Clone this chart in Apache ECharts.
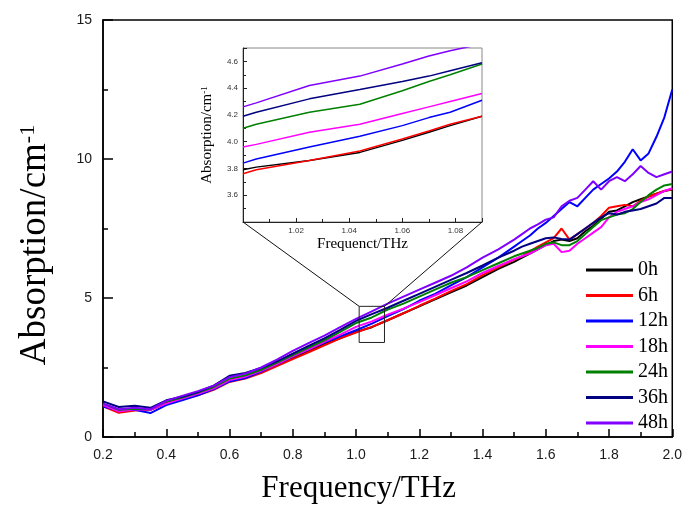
<!DOCTYPE html>
<html>
<head>
<meta charset="utf-8">
<script src="https://cdn.jsdelivr.net/npm/echarts@6.0.0/dist/echarts.min.js"></script>
<style>html,body{margin:0;padding:0;background:#fff}#c{width:685px;height:513px}</style>
</head>
<body>
<div id="c"></div>
<script>
// main curves: frequency (THz) and absorption (cm^-1) per soaking time
const freq = [0.2,0.25,0.3,0.35,0.4,0.45,0.5,0.55,0.6,0.65,0.7,0.75,0.8,0.85,0.9,0.95,1.0,1.05,1.1,1.15,1.2,1.25,1.3,1.35,1.4,1.45,1.5,
  1.525,1.55,1.575,1.6,1.625,1.65,1.675,1.7,1.725,1.75,1.775,1.8,1.825,1.85,1.875,1.9,1.925,1.95,1.975,2.0];
const h0  = [1.15,0.95,1.0,0.98,1.25,1.4,1.55,1.75,2.05,2.15,2.35,2.6,2.85,3.1,3.35,3.55,3.78,3.95,4.2,4.45,4.7,4.95,5.2,5.45,5.75,6.05,6.3,
  6.45,6.6,6.75,6.9,7.05,7.1,7.05,7.15,7.4,7.6,7.85,8.1,8.15,8.3,8.45,8.55,8.65,8.75,8.85,8.9];
const h6  = [1.1,0.87,0.95,0.98,1.2,1.35,1.5,1.7,1.98,2.1,2.3,2.55,2.8,3.05,3.3,3.55,3.76,3.96,4.2,4.45,4.72,4.98,5.25,5.5,5.82,6.1,6.38,
  6.5,6.68,6.85,7.0,7.15,7.5,7.1,7.3,7.5,7.7,7.95,8.25,8.3,8.35,8.3,8.5,8.65,8.75,8.85,8.92];
const h12 = [1.1,0.95,0.98,0.86,1.15,1.32,1.5,1.72,2.0,2.12,2.35,2.62,2.9,3.15,3.4,3.62,3.84,4.08,4.35,4.6,4.9,5.15,5.45,5.75,6.1,6.45,6.85,
  7.05,7.25,7.5,7.7,7.95,8.2,8.45,8.3,8.6,8.9,9.1,9.3,9.55,9.9,10.35,9.95,10.2,10.8,11.5,12.5];
const h18 = [1.15,0.92,1.0,0.98,1.2,1.38,1.55,1.75,2.05,2.17,2.38,2.62,2.9,3.15,3.42,3.68,3.96,4.16,4.4,4.62,4.85,5.1,5.35,5.6,5.9,6.15,6.4,
  6.5,6.6,6.75,6.9,6.95,6.65,6.7,6.95,7.15,7.35,7.55,7.9,8.1,8.2,8.3,8.45,8.55,8.7,8.85,8.95];
const h24 = [1.2,0.98,1.02,1.0,1.28,1.42,1.6,1.8,2.1,2.22,2.42,2.68,2.95,3.22,3.48,3.78,4.1,4.3,4.58,4.8,5.05,5.3,5.55,5.75,6.0,6.25,6.5,
  6.6,6.7,6.8,6.95,7.0,6.9,6.9,7.05,7.3,7.55,7.8,7.9,8.0,8.05,8.2,8.45,8.7,8.9,9.05,9.1];
const h36 = [1.28,1.08,1.12,1.05,1.32,1.45,1.62,1.85,2.2,2.3,2.48,2.72,3.0,3.28,3.55,3.85,4.18,4.42,4.65,4.9,5.15,5.4,5.65,5.9,6.17,6.45,6.7,
  6.85,6.95,7.05,7.15,7.18,7.12,7.1,7.3,7.5,7.7,7.9,8.05,8.0,8.1,8.15,8.2,8.3,8.4,8.6,8.6];
const h48 = [1.2,1.0,1.05,1.0,1.3,1.48,1.65,1.85,2.15,2.28,2.5,2.78,3.1,3.38,3.65,3.95,4.25,4.52,4.8,5.05,5.3,5.55,5.8,6.1,6.45,6.75,7.1,
  7.3,7.5,7.65,7.82,7.9,8.3,8.5,8.6,8.9,9.2,8.9,9.2,9.35,9.2,9.45,9.75,9.5,9.35,9.45,9.55];

// zoomed inset
const insetFreq = [1.0,1.005,1.025,1.044,1.06,1.07,1.078,1.09];
const i0  = [3.79,3.81,3.86,3.92,4.01,4.07,4.12,4.19];
const i6  = [3.76,3.79,3.86,3.93,4.02,4.08,4.13,4.19];
const i12 = [3.84,3.87,3.96,4.04,4.12,4.18,4.22,4.31];
const i18 = [3.96,3.98,4.07,4.13,4.21,4.26,4.30,4.36];
const i24 = [4.10,4.13,4.22,4.28,4.38,4.45,4.50,4.58];
const i36 = [4.19,4.22,4.32,4.39,4.45,4.49,4.53,4.59];
const i48 = [4.26,4.29,4.42,4.49,4.58,4.64,4.68,4.73];

// zoom window drawn on the main plot [xmin, xmax, ymin, ymax]
const zoomBox = [1.01, 1.09, 3.4, 4.7];

const names = ['0h','6h','12h','18h','24h','36h','48h'];
const colors = ['#000000','#ff0000','#0000ff','#ff00ff','#008000','#000080','#8000ff'];
const mainSets = [h0,h6,h12,h18,h24,h36,h48];
const insetSets = [i0,i6,i12,i18,i24,i36,i48];

const SERIF = '"Liberation Serif","Times New Roman",serif';
const SANS = '"Liberation Sans",Arial,sans-serif';
const pair = (xs, ys) => xs.map((x, i) => [x, ys[i]]);

const series = [];
names.forEach((n, k) => {
  series.push({ name:n, type:'line', xAxisIndex:0, yAxisIndex:0, data:pair(freq, mainSets[k]),
    showSymbol:false, symbol:'none', lineStyle:{color:colors[k], width:2}, itemStyle:{color:colors[k]}, z:3 });
});
names.forEach((n, k) => {
  series.push({ name:n, type:'line', xAxisIndex:1, yAxisIndex:1, data:pair(insetFreq, insetSets[k]),
    showSymbol:false, symbol:'none', lineStyle:{color:colors[k], width:1.5}, itemStyle:{color:colors[k]}, z:12 });
});
series.push({ type:'line', xAxisIndex:0, yAxisIndex:0, symbol:'none', z:5,
  data:[[zoomBox[0],zoomBox[2]],[zoomBox[1],zoomBox[2]],[zoomBox[1],zoomBox[3]],[zoomBox[0],zoomBox[3]],[zoomBox[0],zoomBox[2]]],
  lineStyle:{color:'#222', width:1} });

const option = {
  animation:false,
  backgroundColor:'#fff',
  legend:{ data:names, orient:'vertical', left:581, top:255, icon:'rect', itemWidth:47, itemHeight:3, itemGap:5.5,
    textStyle:{fontFamily:SERIF, fontSize:20, color:'#000', lineHeight:20} },
  grid:[
    { left:103, top:20, width:570, height:417, show:true, borderColor:'#000', borderWidth:1.5, backgroundColor:'transparent', containLabel:false },
    { left:243, top:48, width:239, height:174, show:true, borderColor:'#888', borderWidth:1, backgroundColor:'#fff', z:10 }
  ],
  xAxis:[
    { gridIndex:0, type:'value', min:0.2, max:2.0, interval:0.2,
      name:'Frequency/THz', nameLocation:'middle', nameGap:36,
      nameTextStyle:{fontFamily:SERIF, fontSize:31, color:'#000', padding:[0,58,0,0]},
      axisLine:{lineStyle:{color:'#000', width:1.5}},
      axisTick:{inside:true, length:8, lineStyle:{color:'#000', width:1.5}},
      minorTick:{show:true, splitNumber:2, length:5, lineStyle:{color:'#000', width:1.5}},
      axisLabel:{fontFamily:SANS, fontSize:14, color:'#1a1a1a', margin:11, formatter:v => v.toFixed(1)},
      splitLine:{show:false} },
    { gridIndex:1, type:'value', min:1.0, max:1.09, interval:0.02,
      name:'Frequenct/THz', nameLocation:'middle', nameGap:15,
      nameTextStyle:{fontFamily:SERIF, fontSize:15, color:'#000'},
      axisLine:{lineStyle:{color:'#222', width:1}},
      axisTick:{inside:true, length:4, lineStyle:{color:'#222'}},
      minorTick:{show:true, splitNumber:2, length:3, lineStyle:{color:'#222'}},
      axisLabel:{fontFamily:SANS, fontSize:8, color:'#333', margin:5, showMinLabel:false, showMaxLabel:false,
        formatter:v => v.toFixed(2)},
      splitLine:{show:false}, z:11 }
  ],
  yAxis:[
    { gridIndex:0, type:'value', min:0, max:15, interval:5,
      name:'{a|Absorption/cm}{s|-1}', nameLocation:'middle', nameGap:49,
      nameTextStyle:{padding:[0,33,0,0], rich:{
        a:{fontFamily:SERIF, fontSize:37, color:'#000'},
        s:{fontFamily:SERIF, fontSize:22, color:'#000', verticalAlign:'top'} }},
      axisLine:{lineStyle:{color:'#000', width:1.5}},
      axisTick:{inside:true, length:10, lineStyle:{color:'#000', width:1.5}},
      minorTick:{show:true, splitNumber:2, length:5, lineStyle:{color:'#000', width:1.5}},
      axisLabel:{fontFamily:SANS, fontSize:14, color:'#1a1a1a', margin:11},
      splitLine:{show:false} },
    { gridIndex:1, type:'value', min:3.4, max:4.7, interval:0.2,
      name:'{a|Absorption/cm}{s|-1}', nameLocation:'middle', nameGap:28,
      nameTextStyle:{rich:{
        a:{fontFamily:SERIF, fontSize:15, color:'#000'},
        s:{fontFamily:SERIF, fontSize:9, color:'#000', verticalAlign:'top'} }},
      axisLine:{lineStyle:{color:'#222', width:1}},
      axisTick:{inside:true, length:4, lineStyle:{color:'#222'}},
      minorTick:{show:true, splitNumber:2, length:3, lineStyle:{color:'#222'}},
      axisLabel:{fontFamily:SANS, fontSize:8, color:'#333', margin:5, showMinLabel:false, showMaxLabel:false,
        formatter:v => v.toFixed(1)},
      splitLine:{show:false}, z:11 }
  ],
  series
};

const chart = echarts.init(document.getElementById('c'));
chart.setOption(option);

// connector lines from inset bottom corners to zoom window top corners
const insetBL = chart.convertToPixel({xAxisIndex:1, yAxisIndex:1}, [1.0, 3.4]);
const insetBR = chart.convertToPixel({xAxisIndex:1, yAxisIndex:1}, [1.09, 3.4]);
const boxTL = chart.convertToPixel({xAxisIndex:0, yAxisIndex:0}, [zoomBox[0], zoomBox[3]]);
const boxTR = chart.convertToPixel({xAxisIndex:0, yAxisIndex:0}, [zoomBox[1], zoomBox[3]]);
chart.setOption({ graphic:[
  { type:'line', shape:{x1:insetBL[0], y1:insetBL[1], x2:boxTL[0], y2:boxTL[1]}, style:{stroke:'#111', lineWidth:1}, z:20 },
  { type:'line', shape:{x1:insetBR[0], y1:insetBR[1], x2:boxTR[0], y2:boxTR[1]}, style:{stroke:'#111', lineWidth:1}, z:20 }
]});
</script>
</body>
</html>
